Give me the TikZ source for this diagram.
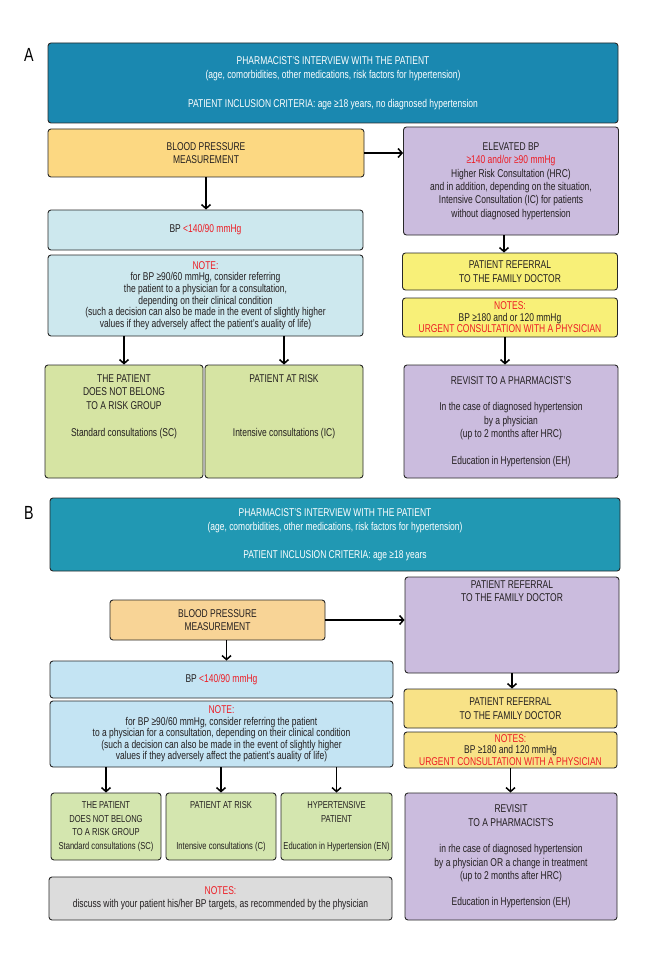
\documentclass[tikz,border=0pt]{standalone}
\usepackage{fontspec}
\setmainfont{Liberation Sans}[FakeStretch=0.75]
\usetikzlibrary{arrows.meta}

\definecolor{headA}{RGB}{26,136,176}
\definecolor{headB}{RGB}{33,152,179}
\definecolor{measA}{RGB}{252,216,130}
\definecolor{measB}{RGB}{248,212,150}
\definecolor{lowbpA}{RGB}{205,232,238}
\definecolor{lowbpB}{RGB}{196,228,243}
\definecolor{referral}{RGB}{203,188,222}
\definecolor{urgentA}{RGB}{248,240,120}
\definecolor{urgentB}{RGB}{248,226,135}
\definecolor{groupA}{RGB}{214,228,163}
\definecolor{groupB}{RGB}{212,230,175}
\definecolor{targets}{RGB}{220,220,220}
\definecolor{bpred}{RGB}{237,28,36}
\definecolor{boxline}{RGB}{40,40,40}
\definecolor{boxtext}{RGB}{35,31,32}

\begin{document}
\begin{tikzpicture}[x=1pt, y=-1pt,
    box/.style={draw=boxline, line width=0.9pt, rounded corners=3pt, align=center,
      inner sep=2pt, text=boxtext, font=\fontsize{11.3}{13.4}\selectfont},
    headbox/.style={box, text=white, font=\fontsize{11.3}{14.3}\selectfont},
    notebox/.style={box, font=\fontsize{11.3}{11.6}\selectfont},
    smallbox/.style={box, font=\fontsize{10.1}{13.6}\selectfont},
    boxtxt/.style={align=center, inner sep=0pt, text=boxtext, font=\fontsize{11.3}{13.4}\selectfont},
    panel/.style={font=\fontsize{19}{19}\selectfont},
    arr/.style={-{Straight Barb[length=4pt,width=9pt]}, line width=1.5pt}]
  \useasboundingbox[fill=white] (0,0) rectangle (660,960);

  % panel A
  \node[panel] (labA) at (29,55) {A};
  \node[headbox, fill=headA, minimum width=570pt, minimum height=80pt] (topA) at (333,83)
    {PHARMACIST’S INTERVIEW WITH THE PATIENT\\
     (age, comorbidities, other medications, risk factors for hypertension)\\[14pt]
     PATIENT INCLUSION CRITERIA: age ≥18 years, no diagnosed hypertension};
  \node[box, fill=measA, minimum width=316pt, minimum height=48pt] (bpA) at (206,153)
    {BLOOD PRESSURE\\MEASUREMENT};
  \node[box, fill=referral, minimum width=215pt, minimum height=108pt] (elevA) at (511,181)
    {ELEVATED BP\\
     \textcolor{bpred}{≥140 and/or ≥90 mmHg}\\
     Higher Risk Consultation (HRC)\\
     and in addition, depending on the situation,\\
     Intensive Consultation (IC) for patients\\
     without diagnosed hypertension};
  \node[box, fill=lowbpA, minimum width=315pt, minimum height=40pt] (lowA) at (205.5,230)
    {BP \textcolor{bpred}{<140/90 mmHg}};
  \node[notebox, fill=lowbpA, minimum width=315pt, minimum height=81pt] (noteA) at (205.5,295.5)
    {\textcolor{bpred}{NOTE:}\\
     for BP ≥90/60 mmHg, consider referring\\
     the patient to a physician for a consultation,\\
     depending on their clinical condition\\
     (such a decision can also be made in the event of slightly higher\\
     values if they adversely affect the patient’s auality of life)};
  \node[box, fill=urgentA, minimum width=215pt, minimum height=37pt] (refA) at (510,271.5)
    {PATIENT REFERRAL\\TO THE FAMILY DOCTOR};
  \node[notebox, fill=urgentA, minimum width=215pt, minimum height=39pt] (urgA) at (510,317.5)
    {\textcolor{bpred}{NOTES:}\\
     BP ≥180 and or 120 mmHg\\
     \textcolor{bpred}{URGENT CONSULTATION WITH A PHYSICIAN}};
  \node[box, fill=groupA, minimum width=158pt, minimum height=113pt] (g1A) at (124,421.5) {};
  \node[boxtxt, anchor=north] (g1Atxt) at ([yshift=-10pt]g1A.north)
    {THE PATIENT\\DOES NOT BELONG\\TO A RISK GROUP\\[14pt]Standard consultations (SC)};
  \node[box, fill=groupA, minimum width=158pt, minimum height=113pt] (g2A) at (284,421.5) {};
  \node[boxtxt, anchor=north] (g2Atxt) at ([yshift=-10pt]g2A.north)
    {PATIENT AT RISK\\[40pt]Intensive consultations (IC)};
  \node[box, fill=referral, minimum width=214pt, minimum height=113pt] (revA) at (511,421.5)
    {REVISIT TO A PHARMACIST’S\\[13.3pt]
     In the case of diagnosed hypertension\\
     by a physician\\
     (up to 2 months after HRC)\\[13.3pt]
     Education in Hypertension (EH)};

  \draw[arr] (bpA.east) -- (bpA.east -| elevA.west);
  \draw[arr] (bpA.south) -- (bpA.south |- lowA.north);
  \draw[arr] ([xshift=-7pt]elevA.south) -- ([xshift=-7pt]elevA.south |- refA.north);
  \draw[arr] ([xshift=-5pt]urgA.south) -- ([xshift=-5pt]urgA.south |- revA.north);
  \draw[arr] (g1A.north |- noteA.south) -- (g1A.north);
  \draw[arr] (g2A.north |- noteA.south) -- (g2A.north);

  % panel B
  \node[panel] (labB) at (29,513) {B};
  \node[headbox, fill=headB, minimum width=570pt, minimum height=73pt] (topB) at (335,534.5)
    {PHARMACIST’S INTERVIEW WITH THE PATIENT\\
     (age, comorbidities, other medications, risk factors for hypertension)\\[13pt]
     PATIENT INCLUSION CRITERIA: age ≥18 years};
  \node[box, fill=referral, minimum width=214pt, minimum height=96pt] (refB) at (512,625) {};
  \node[boxtxt, anchor=north] (refBtxt) at ([yshift=-4pt]refB.north)
    {PATIENT REFERRAL\\TO THE FAMILY DOCTOR};
  \node[box, fill=measB, minimum width=215pt, minimum height=40pt] (bpB) at (217.5,620)
    {BLOOD PRESSURE\\MEASUREMENT};
  \node[box, fill=lowbpB, minimum width=343pt, minimum height=37pt] (lowB) at (221.5,679.5)
    {BP \textcolor{bpred}{<140/90 mmHg}};
  \node[notebox, fill=lowbpB, minimum width=343pt, minimum height=66pt] (noteB) at (221.5,734)
    {\textcolor{bpred}{NOTE:}\\
     for BP ≥90/60 mmHg, consider referring the patient\\
     to a physician for a consultation, depending on their clinical condition\\
     (such a decision can also be made in the event of slightly higher\\
     values if they adversely affect the patient’s auality of life)};
  \node[box, fill=urgentB, minimum width=213pt, minimum height=39pt] (ref2B) at (510.5,708.5)
    {PATIENT REFERRAL\\TO THE FAMILY DOCTOR};
  \node[notebox, fill=urgentB, minimum width=213pt, minimum height=36pt] (urgB) at (510.5,750)
    {\textcolor{bpred}{NOTES:}\\
     BP ≥180 and 120 mmHg\\
     \textcolor{bpred}{URGENT CONSULTATION WITH A PHYSICIAN}};
  \node[box, fill=referral, minimum width=212pt, minimum height=127pt] (revB) at (511,856.5)
    {REVISIT\\TO A PHARMACIST’S\\[13.3pt]
     in rhe case of diagnosed hypertension\\
     by a physician OR a change in treatment\\
     (up to 2 months after HRC)\\[13pt]
     Education in Hypertension (EH)};
  \node[smallbox, fill=groupB, minimum width=110pt, minimum height=67pt] (g1B) at (106,826.5)
    {THE PATIENT\\DOES NOT BELONG\\TO A RISK GROUP\\Standard consultations (SC)};
  \node[smallbox, fill=groupB, minimum width=110pt, minimum height=67pt] (g2B) at (221,826.5)
    {PATIENT AT RISK\\[27.4pt]Intensive consultations (C)};
  \node[smallbox, fill=groupB, minimum width=111pt, minimum height=67pt] (g3B) at (336.5,826.5)
    {HYPERTENSIVE\\PATIENT\\[13.6pt]Education in Hypertension (EN)};
  \node[box, fill=targets, minimum width=343pt, minimum height=43pt] (grey) at (220.5,898.5)
    {\textcolor{bpred}{NOTES:}\\
     discuss with your patient his/her BP targets, as recommended by the physician};

  \draw[arr] (bpB.east) -- (bpB.east -| refB.west);
  \draw[arr] ([xshift=9pt]bpB.south) -- ([xshift=9pt]bpB.south |- lowB.north);
  \draw[arr] (refB.south) -- (refB.south |- ref2B.north);
  \draw[arr] (urgB.south) -- (urgB.south |- revB.north);
  \draw[arr] (g1B.north |- noteB.south) -- (g1B.north);
  \draw[arr] (g2B.north |- noteB.south) -- (g2B.north);
  \draw[arr] (g3B.north |- noteB.south) -- (g3B.north);
\end{tikzpicture}
\end{document}
